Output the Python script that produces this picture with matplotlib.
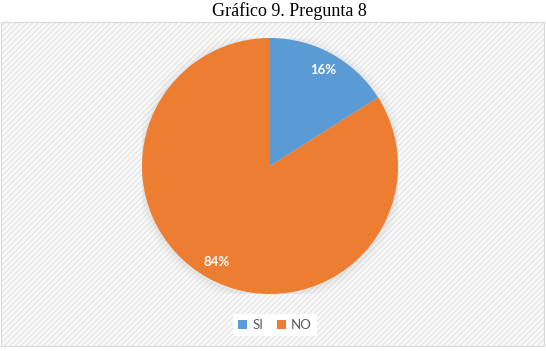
import matplotlib.pyplot as plt
from matplotlib.patches import Rectangle, Circle

categories = ["SI", "NO"]
values = [16, 84]
colors = ["#5B9BD5", "#ED7D31"]
title = "Gráfico 9. Pregunta 8"

W, H = 546, 351
fig = plt.figure(figsize=(W / 100, H / 100), dpi=100)
fig.patch.set_facecolor("white")

# chart area background with faint diagonal texture
plt.rcParams["hatch.color"] = "#efefef"
plt.rcParams["hatch.linewidth"] = 0.5
bg = Rectangle((1 / W, 1 - 346 / H), 543 / W, 324 / H, transform=fig.transFigure,
               facecolor="#f8f8f8", edgecolor="#d9d9d9", hatch="//////", lw=0.8, zorder=-5)
fig.patches.append(bg)

fig.text(289 / W, 1 - 11 / H, title, ha="center", va="center",
         family="Liberation Serif", fontsize=13, color="black")

cx, cy, r = 270, 166, 128
ax = fig.add_axes([(cx - r) / W, 1 - (cy + r) / H, 2 * r / W, 2 * r / H])
ax.set_facecolor("none")
ax.set_zorder(2)

# soft shadow around pie
for k, a in [(1.07, 0.025), (1.05, 0.035), (1.03, 0.045), (1.015, 0.06)]:
    ax.add_patch(Circle((0.0, -0.012), k, color="#9a9a9a", alpha=a, lw=0, zorder=0))

wedges, texts, autotexts = ax.pie(values, colors=colors, startangle=90, counterclock=False,
                                  autopct="%1.0f%%", pctdistance=0.86,
                                  wedgeprops=dict(linewidth=0))
for t in autotexts:
    t.set_color("white")
    t.set_fontweight("bold")
    t.set_fontsize(9.5)
    t.set_family("Lato")
ax.set_xlim(-1, 1)
ax.set_ylim(-1, 1)
ax.set_aspect("equal")
ax.axis("off")

leg = fig.legend(wedges, categories, loc="center", bbox_to_anchor=(275 / W, 1 - 325 / H),
                 ncol=2, frameon=True, handlelength=0.7, handleheight=0.7,
                 handletextpad=0.4, columnspacing=1.0, borderpad=0.4,
                 prop={"family": "Lato", "size": 9.5})
leg.get_frame().set_facecolor("white")
leg.get_frame().set_edgecolor("none")
leg.get_frame().set_alpha(1)
leg.set_zorder(3)
for t in leg.get_texts():
    t.set_color("#595959")

fig.savefig("out.png", dpi=100, facecolor=fig.get_facecolor())
